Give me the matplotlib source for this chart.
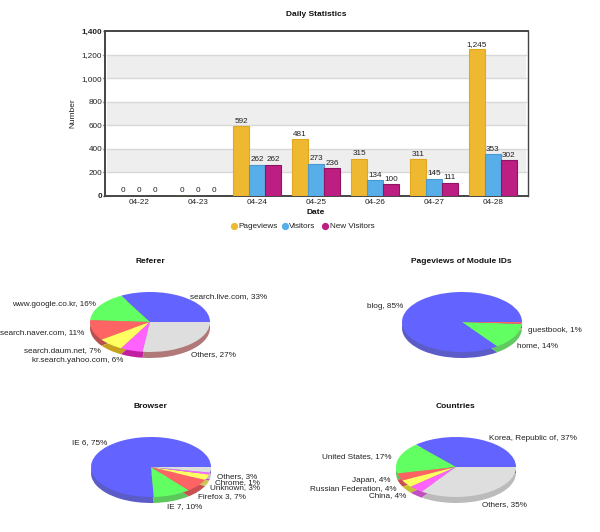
import matplotlib
matplotlib.use("Agg")
import matplotlib.pyplot as plt
import numpy as np

plt.rcParams['font.family'] = ['Liberation Sans', 'DejaVu Sans']

dates = ['04-22', '04-23', '04-24', '04-25', '04-26', '04-27', '04-28']
pageviews = [0, 0, 592, 481, 315, 311, 1245]
visitors = [0, 0, 262, 273, 134, 145, 353]
new_visitors = [0, 0, 262, 236, 100, 111, 302]
y_ticks = [0, 200, 400, 600, 800, 1000, 1200, 1400]

referer_labels = ['search.live.com, 33%', 'www.google.co.kr, 16%', 'search.naver.com, 11%',
                  'search.daum.net, 7%', 'kr.search.yahoo.com, 6%', 'Others, 27%']
referer_values = [33, 16, 11, 7, 6, 27]
module_labels = ['blog, 85%', 'home, 14%', 'guestbook, 1%']
module_values = [85, 14, 1]
browser_labels = ['IE 6, 75%', 'IE 7, 10%', 'Firefox 3, 7%', 'Unknown, 3%', 'Chrome, 1%', 'Others, 3%']
browser_values = [75, 10, 7, 3, 1, 3]
country_labels = ['Korea, Republic of, 37%', 'United States, 17%', 'Japan, 4%',
                  'Russian Federation, 4%', 'China, 4%', 'Others, 35%']
country_values = [37, 17, 4, 4, 4, 35]

W, H = 600, 532
FS = 5.9
fig = plt.figure(figsize=(W / 100, H / 100), dpi=100, facecolor='white')


def px_axes(l, t, r, b):
    return fig.add_axes([l / W, 1 - b / H, (r - l) / W, (b - t) / H])


def px_text(x, y, s, **kw):
    kw.setdefault('fontsize', FS)
    kw.setdefault('color', '#222222')
    kw.setdefault('va', 'center')
    fig.text(x / W, 1 - y / H, s, **kw)


# ---------- bar chart ----------
ax = px_axes(105, 31, 528, 196)
x = np.arange(len(dates))
bw = 0.27
series = [(pageviews, '#EEB831', '#E0A820', -bw),
          (visitors, '#57AEE9', '#4A98D0', 0),
          (new_visitors, '#BC1E82', '#8E1562', bw)]
for lo, hi in zip(y_ticks[1:-1:2], y_ticks[2::2]):
    ax.axhspan(lo, hi, xmin=0.005, xmax=0.995, color='#EEEEEE', lw=0, zorder=0)
for t in y_ticks[1:-1]:
    ax.axhline(t, xmin=0.005, xmax=0.995, color='#D8D8D8', lw=1, zorder=1)
for vals, col, edge, off in series:
    ax.bar(x + off, vals, bw, color=col, edgecolor=edge, linewidth=0.8, zorder=3)
    for xi, v in zip(x + off, vals):
        ax.annotate(f'{v:,}', (xi, v), xytext=(0, 1.2), textcoords='offset points',
                    ha='center', va='bottom', fontsize=FS, color='#222222', zorder=4)
ax.set_xlim(-0.576, 6.593)
ax.set_ylim(0, 1400)
ax.set_yticks(y_ticks)
ax.set_yticklabels([f'{t:,}' for t in y_ticks], fontsize=FS, color='#222222')
ax.get_yticklabels()[0].set_fontweight('bold')
ax.get_yticklabels()[-1].set_fontweight('bold')
ax.set_xticks(x)
ax.set_xticklabels(dates, fontsize=FS, color='#222222')
ax.tick_params(axis='x', length=0, pad=2.5)
ax.tick_params(axis='y', length=1.5, width=1, pad=0.5, color='#444444')
for s in ax.spines.values():
    s.set_color('#444444')
    s.set_linewidth(1.4)
ax.spines['right'].set_linewidth(1.0)
ax.set_axisbelow(True)

px_text(316, 14, 'Daily Statistics', fontweight='bold', ha='center', color='#111111', fontsize=6.0)
px_text(316, 212, 'Date', fontweight='bold', ha='center', color='#111111', fontsize=6.0)
px_text(73, 113, 'Number', rotation=90, ha='center', fontsize=6.0)

legend_items = [(234, 238, 'Pageviews', '#EEB831'), (285, 289, 'Visitors', '#57AEE9'),
                (325, 330, 'New Visitors', '#BC1E82')]
for mx, tx, s, c in legend_items:
    fig.add_artist(plt.Line2D([mx / W], [1 - 225.5 / H], marker='o', ms=4.2, color=c, mec=c, lw=0))
    px_text(tx, 226.5, s, ha='left', fontsize=FS)

# ---------- pies ----------
TOPS = ['#6363FF', '#62FF62', '#FF6464', '#FFFF62', '#FF62FF', '#DEDEDE']


def pie3d(cx, cy, values, title, tx, labels, sides, rx=60, ry=30, depth=6):
    a = px_axes(cx - rx, cy - ry, cx + rx, cy + ry + depth)
    d = depth / ry
    a.pie(values, colors=sides[:len(values)], startangle=0, counterclock=True,
          radius=1, center=(0, -d), normalize=True)
    a.pie(values, colors=TOPS[:len(values)], startangle=0, counterclock=True,
          radius=1, center=(0, 0), normalize=True)
    a.set_aspect('auto')
    a.set_xlim(-1, 1)
    a.set_ylim(-1 - d, 1)
    a.patch.set_visible(False)
    px_text(tx, cy - 60, title, fontweight='bold', ha='center', color='#111111', fontsize=6.0)
    for (lx, ly, ha), s in labels:
        px_text(lx, ly, s, ha=ha)


pie3d(150, 322, referer_values, 'Referer', 150,
      list(zip([(190, 297, 'left'), (96, 304, 'right'), (84, 333, 'right'),
                (101, 351, 'right'), (123, 360, 'right'), (191, 355, 'left')], referer_labels)),
      sides=['#5C5CC8', '#5CC85C', '#B85050', '#C8A020', '#C020A0', '#B07878'])
pie3d(462, 322, module_values, 'Pageviews of Module IDs', 461,
      list(zip([(403, 307, 'right'), (517, 346, 'left'), (528, 331, 'left')], module_labels)),
      sides=['#5C5CC8', '#62C862', '#FF9090'])
pie3d(151, 467, browser_values, 'Browser', 150,
      list(zip([(107, 443, 'right'), (167, 507, 'left'), (198, 497, 'left'),
                (210, 488, 'left'), (215, 483, 'left'), (217, 477, 'left')], browser_labels)),
      sides=['#5C5CC8', '#5CC85C', '#C85050', '#C8C850', '#C050C0', '#C0C0C0'])
pie3d(456, 467, country_values, 'Countries', 456,
      list(zip([(489, 439, 'left'), (392, 457, 'right'), (390, 480, 'right'),
                (396, 489, 'right'), (406, 496, 'right'), (482, 505, 'left')], country_labels)),
      sides=['#5C5CC8', '#5CC85C', '#C85050', '#C8C030', '#C050C0', '#BBBBBB'])

fig.savefig('out.png', dpi=100, facecolor='white')
